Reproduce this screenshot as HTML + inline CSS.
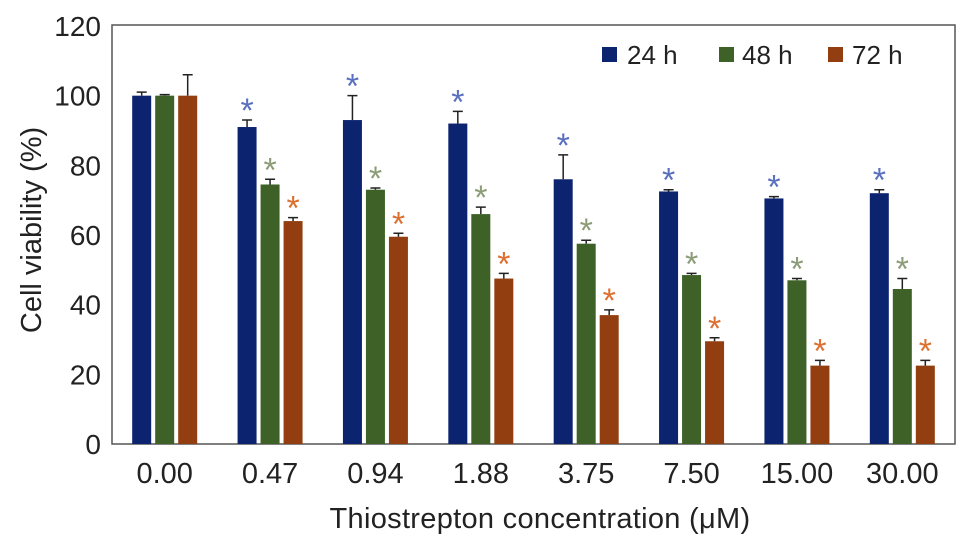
<!DOCTYPE html>
<html><head><meta charset="utf-8"><style>
body{margin:0;background:#fff;}
svg text{font-family:"Liberation Sans",sans-serif;fill:#222;}
</style></head><body>
<svg id="chart" width="969" height="551" viewBox="0 0 969 551" xmlns="http://www.w3.org/2000/svg">
<rect x="112" y="25" width="843" height="419" fill="none" stroke="#555" stroke-width="1.5"/>
<g id="yticks"></g><g id="bars"></g><g id="xlabels"></g>
<text transform="translate(41,230) rotate(-90)" text-anchor="middle" font-size="29">Cell viability (%)</text>
<text x="540" y="528" text-anchor="middle" font-size="29" letter-spacing="0.3">Thiostrepton concentration (μM)</text>
<g>
<rect x="602" y="47" width="15" height="15" fill="#0c2370"/>
<text x="627" y="64" font-size="26">24 h</text>
<rect x="719" y="47" width="15" height="15" fill="#3d6126"/>
<text x="742" y="64" font-size="26">48 h</text>
<rect x="828" y="47" width="15" height="15" fill="#933e10"/>
<text x="852" y="64" font-size="26">72 h</text>
</g>
</svg>
<script>
const categories=["0.00","0.47","0.94","1.88","3.75","7.50","15.00","30.00"];
const v24=[100,91,93,92,76,72.5,70.5,72];
const e24=[1,2,7,3.5,7,0.5,0.5,1];
const v48=[100,74.5,73,66,57.5,48.5,47,44.5];
const e48=[0.3,1.5,0.5,2,1,0.5,0.5,3];
const v72=[100,64,59.5,47.5,37,29.5,22.5,22.5];
const e72=[6,1,1,1.5,1.5,1,1.5,1.5];
const sig=[false,true,true,true,true,true,true,true];
const yTicks=[0,20,40,60,80,100,120];
const NS="http://www.w3.org/2000/svg";
const x0=112,x1=955,yb=444,yt=26,ymax=120;
const y=v=>yb-(v/ymax)*(yb-yt);
const gw=(x1-x0)/categories.length;
const series=[{v:v24,e:e24,c:"#0c2370",a:"#5a6fc0",n:"24h"},{v:v48,e:e48,c:"#3d6126",a:"#8d9c78",n:"48h"},{v:v72,e:e72,c:"#933e10",a:"#dc7030",n:"72h"}];
function mk(t,attrs,parent){const el=document.createElementNS(NS,t);for(const k in attrs)el.setAttribute(k,attrs[k]);parent.appendChild(el);return el;}
const yg=document.getElementById("yticks");
yTicks.forEach(t=>{const el=mk("text",{x:101,y:y(t)+10,"text-anchor":"end","font-size":"28"},yg);el.textContent=t;

});
const bg=document.getElementById("bars"),xg=document.getElementById("xlabels");
const bw=19,step=23;
categories.forEach((cat,i)=>{
 const cx=x0+gw*(i+0.5);
 const lb=mk("text",{x:cx,y:483,"text-anchor":"middle","font-size":"29"},xg);lb.textContent=cat;
 
 
 series.forEach((s,j)=>{
  const bx=cx+(j-1)*step-bw/2;
  const r=mk("rect",{x:bx,y:y(s.v[i]),width:bw,height:yb-y(s.v[i]),fill:s.c},bg);
  
  
  const top=y(s.v[i]+s.e[i]),mid=bx+bw/2;
  const eb=mk("path",{d:`M${mid},${y(s.v[i])}V${top}M${mid-5},${top}H${mid+5}`,stroke:"#222","stroke-width":"1.5",fill:"none"},bg);
  
  
  if(sig[i]){const st=mk("text",{x:mid,y:top+2,"text-anchor":"middle","font-size":"34",style:"fill:"+s.a},bg);st.textContent="*";
  
  }
 });
});
</script>
</body></html>
